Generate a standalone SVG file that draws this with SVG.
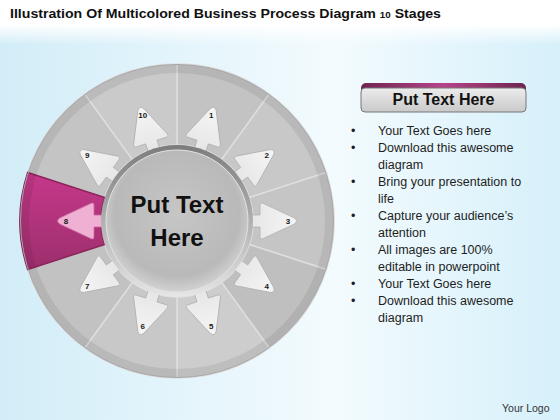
<svg xmlns="http://www.w3.org/2000/svg" xmlns:xlink="http://www.w3.org/1999/xlink" width="560" height="420" viewBox="0 0 560 420">
<defs>
<style>
.seg{stroke:#dedede;stroke-width:1.5}
.arrow{fill:url(#arrowGrad);stroke:#b0b0b0;stroke-width:0.8;stroke-linejoin:round}
.num{font-family:"Liberation Sans",Arial,sans-serif;font-weight:bold;font-size:8px;fill:#1a1a1a;text-anchor:middle;dominant-baseline:central}
.bul{font-family:"Liberation Sans",Arial,sans-serif;font-size:12.5px;fill:#1e1e1e}
</style>
<linearGradient id="bg" x1="0" y1="0" x2="1" y2="0">
<stop offset="0" stop-color="#d2edf8"/>
<stop offset="0.6" stop-color="#f3fbfe"/>
<stop offset="1" stop-color="#d6f0fa"/>
</linearGradient>
<linearGradient id="topBand" x1="0" y1="0" x2="0" y2="1">
<stop offset="0" stop-color="#ffffff" stop-opacity="1"/>
<stop offset="0.55" stop-color="#ffffff" stop-opacity="1"/>
<stop offset="1" stop-color="#ffffff" stop-opacity="0"/>
</linearGradient>
<linearGradient id="arrowGrad" x1="0" y1="0" x2="1" y2="0">
<stop offset="0" stop-color="#e6e6e6"/>
<stop offset="1" stop-color="#f5f5f5"/>
</linearGradient>
<linearGradient id="pinkGrad" x1="0" y1="0" x2="0" y2="1">
<stop offset="0" stop-color="#c5388a"/>
<stop offset="1" stop-color="#9c2f6c"/>
</linearGradient>
<linearGradient id="rimGrad" x1="0" y1="0" x2="0" y2="1">
<stop offset="0" stop-color="#7c7c7c"/>
<stop offset="0.5" stop-color="#b0b0b0"/>
<stop offset="1" stop-color="#e6e6e6"/>
</linearGradient>
<radialGradient id="faceGrad" cx="0.5" cy="0.45" r="0.55">
<stop offset="0" stop-color="#c6c6c6"/>
<stop offset="0.8" stop-color="#b9b9b9"/>
<stop offset="1" stop-color="#d2d2d2"/>
</radialGradient>
<linearGradient id="hdrGrad" x1="0" y1="0" x2="0" y2="1">
<stop offset="0" stop-color="#ececec"/>
<stop offset="1" stop-color="#c9c9c9"/>
</linearGradient>
<linearGradient id="hdrTop" x1="0" y1="0" x2="1" y2="0">
<stop offset="0" stop-color="#6e2450"/>
<stop offset="0.5" stop-color="#b8438a"/>
<stop offset="1" stop-color="#6e2450"/>
</linearGradient>
<path id="arrowShape" d="M74 -6 L83 -6 L83 -16 Q83 -19 86 -17.7 L117 -3.2 Q122 0 117 3.2 L86 17.7 Q83 19 83 16 L83 6 L74 6 Z"/>
</defs>

<rect x="0" y="0" width="560" height="420" fill="url(#bg)"/>
<rect x="0" y="0" width="560" height="45" fill="url(#topBand)"/>

<text x="10" y="18" font-family="'Liberation Sans',Arial,sans-serif" font-weight="bold" font-size="13" fill="#111" textLength="431" lengthAdjust="spacingAndGlyphs">Illustration Of Multicolored Business Process Diagram <tspan font-size="9">10</tspan> Stages</text>

<g id="wheel">
<g id="seg1"><path class="seg" fill="#c3c3c3" d="M177 64 A157 157 0 0 1 269.28 93.99 L221.67 159.52 A76 76 0 0 0 177 145 Z"/></g>
<g id="seg2"><path class="seg" fill="#c8c8c8" d="M269.28 93.99 A157 157 0 0 1 326.32 172.49 L249.28 197.52 A76 76 0 0 0 221.67 159.52 Z"/></g>
<g id="seg3"><path class="seg" fill="#c5c5c5" d="M326.32 172.49 A157 157 0 0 1 326.32 269.51 L249.28 244.48 A76 76 0 0 0 249.28 197.52 Z"/></g>
<g id="seg4"><path class="seg" fill="#bfbfbf" d="M326.32 269.51 A157 157 0 0 1 269.28 348.01 L221.67 282.48 A76 76 0 0 0 249.28 244.48 Z"/></g>
<g id="seg5"><path class="seg" fill="#cdcdcd" d="M269.28 348.01 A157 157 0 0 1 177 378 L177 297 A76 76 0 0 0 221.67 282.48 Z"/></g>
<g id="seg6"><path class="seg" fill="#c8c8c8" d="M177 378 A157 157 0 0 1 84.72 348.01 L132.33 282.48 A76 76 0 0 0 177 297 Z"/></g>
<g id="seg7"><path class="seg" fill="#c2c2c2" d="M84.72 348.01 A157 157 0 0 1 27.68 269.51 L104.72 244.48 A76 76 0 0 0 132.33 282.48 Z"/></g>
<g id="seg9"><path class="seg" fill="#c4c4c4" d="M27.68 172.49 A157 157 0 0 1 84.72 93.99 L132.33 159.52 A76 76 0 0 0 104.72 197.52 Z"/></g>
<g id="seg10"><path class="seg" fill="#cacaca" d="M84.72 93.99 A157 157 0 0 1 177 64 L177 145 A76 76 0 0 0 132.33 159.52 Z"/></g>
<g id="seg8"><path fill="url(#pinkGrad)" stroke="#8a2459" stroke-width="1.5" d="M27.68 269.51 A157 157 0 0 1 27.68 172.49 L104.72 197.52 A76 76 0 0 0 104.72 244.48 Z"/></g>
<path fill="#000" fill-opacity="0.07" fill-rule="evenodd" d="M20 221 A157 157 0 1 0 334 221 A157 157 0 1 0 20 221 Z M29 221 A148 148 0 1 0 325 221 A148 148 0 1 0 29 221 Z"/>
<circle cx="177" cy="221" r="156.5" fill="none" stroke="#a8a8a8" stroke-width="1"/>
</g>

<g id="connectors">
<g transform="translate(177 221)">
<use xlink:href="#arrowShape" class="arrow" transform="rotate(-72)"/>
<use xlink:href="#arrowShape" class="arrow" transform="rotate(-36)"/>
<use xlink:href="#arrowShape" class="arrow" transform="rotate(0)"/>
<use xlink:href="#arrowShape" class="arrow" transform="rotate(36)"/>
<use xlink:href="#arrowShape" class="arrow" transform="rotate(72)"/>
<use xlink:href="#arrowShape" class="arrow" transform="rotate(108)"/>
<use xlink:href="#arrowShape" class="arrow" transform="rotate(144)"/>
<use xlink:href="#arrowShape" transform="rotate(180)" fill="#f0b0d4" stroke="#c9649f" stroke-width="0.8" stroke-linejoin="round"/>
<use xlink:href="#arrowShape" class="arrow" transform="rotate(216)"/>
<use xlink:href="#arrowShape" class="arrow" transform="rotate(252)"/>
</g>
</g>

<g id="labels">
<text class="num" x="211.3" y="115.4">1</text>
<text class="num" x="266.8" y="155.8">2</text>
<text class="num" x="288" y="221">3</text>
<text class="num" x="266.8" y="286.2">4</text>
<text class="num" x="211.3" y="326.6">5</text>
<text class="num" x="142.7" y="326.6">6</text>
<text class="num" x="87.2" y="286.2">7</text>
<text class="num" x="66" y="221">8</text>
<text class="num" x="87.2" y="155.8">9</text>
<text class="num" x="142.7" y="115.4">10</text>
</g>

<g id="center">
<circle cx="177" cy="221" r="76" fill="url(#rimGrad)"/>
<circle cx="177" cy="221" r="71" fill="url(#faceGrad)" stroke="#e2e2e2" stroke-width="1"/>
<text x="177" y="213" text-anchor="middle" font-family="'Liberation Sans',Arial,sans-serif" font-weight="bold" font-size="24" fill="#111">Put Text</text>
<text x="177" y="246" text-anchor="middle" font-family="'Liberation Sans',Arial,sans-serif" font-weight="bold" font-size="24" fill="#111">Here</text>
</g>

<g id="header">
<rect x="361" y="83" width="165" height="29" rx="5" fill="url(#hdrTop)"/>
<rect x="361" y="88" width="165" height="24" rx="4" fill="url(#hdrGrad)" stroke="#777" stroke-width="1"/>
<text x="443.5" y="105" text-anchor="middle" font-family="'Liberation Sans',Arial,sans-serif" font-weight="bold" font-size="16" fill="#111">Put Text Here</text>
</g>

<g id="bullets">
<text class="bul" x="351" y="135">•</text><text class="bul" x="378" y="135">Your Text Goes here</text>
<text class="bul" x="351" y="152">•</text><text class="bul" x="378" y="152">Download this awesome</text>
<text class="bul" x="378" y="169">diagram</text>
<text class="bul" x="351" y="186">•</text><text class="bul" x="378" y="186">Bring your presentation to</text>
<text class="bul" x="378" y="203">life</text>
<text class="bul" x="351" y="220">•</text><text class="bul" x="378" y="220">Capture your audience’s</text>
<text class="bul" x="378" y="237">attention</text>
<text class="bul" x="351" y="254">•</text><text class="bul" x="378" y="254">All images are 100%</text>
<text class="bul" x="378" y="271">editable in powerpoint</text>
<text class="bul" x="351" y="288">•</text><text class="bul" x="378" y="288">Your Text Goes here</text>
<text class="bul" x="351" y="305">•</text><text class="bul" x="378" y="305">Download this awesome</text>
<text class="bul" x="378" y="322">diagram</text>
</g>

<text x="502" y="412" font-family="'Liberation Sans',Arial,sans-serif" font-size="10.5" fill="#333">Your Logo</text>
</svg>
